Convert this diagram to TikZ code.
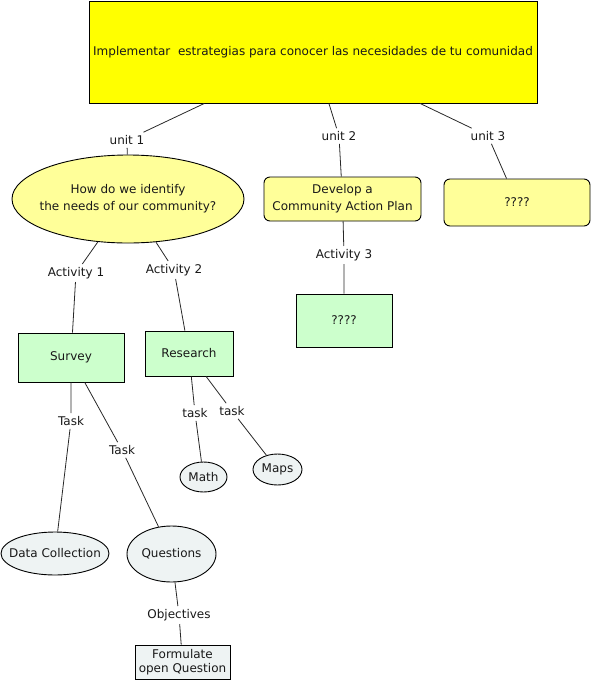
\documentclass[tikz,border=0pt]{standalone}
\usepackage{fontspec}
\setmainfont{DejaVu Sans}
\usetikzlibrary{shapes.geometric}
\definecolor{topyel}{RGB}{255,255,0}
\definecolor{lightyel}{RGB}{255,255,153}
\definecolor{lightgrn}{RGB}{204,255,204}
\definecolor{lightgry}{RGB}{238,243,243}
\definecolor{linecol}{RGB}{40,40,40}
\begin{document}
\begin{tikzpicture}[x=1pt,y=-1pt,
  every node/.style={font=\fontsize{12}{17}\selectfont, text=black!90},
  mainbox/.style={draw=black, line width=0.9pt, fill=topyel, inner sep=0pt},
  yelbox/.style={draw=black, line width=0.9pt, fill=lightyel, rounded corners=6pt, inner sep=0pt, align=center},
  yeloval/.style={ellipse, draw=black, line width=0.9pt, fill=lightyel, inner xsep=-10pt, inner ysep=0pt, align=center},
  grnbox/.style={draw=black, line width=0.9pt, fill=lightgrn, inner sep=0pt},
  gryoval/.style={ellipse, draw=black, line width=0.9pt, fill=lightgry, inner xsep=-8pt, inner ysep=0pt},
  grybox/.style={draw=black, line width=0.9pt, fill=lightgry, inner sep=0pt, align=center, font=\fontsize{12}{14.5}\selectfont},
  lbl/.style={inner sep=3pt},
  conn/.style={draw=linecol, line width=0.8pt}]
\useasboundingbox (0,0) rectangle (592,681);
% concepts
\node[mainbox, minimum width=448pt, minimum height=102pt] (top) at (313,52) {Implementar\ \ estrategias para conocer las necesidades de tu comunidad};
\node[yeloval, minimum width=232pt, minimum height=88pt] (ell) at (128,199) {How do we identify\\the needs of our community?};
\node[yelbox, minimum width=157pt, minimum height=44pt] (dev) at (342.5,199) {Develop a\\Community Action Plan};
\node[yelbox, minimum width=146pt, minimum height=47pt] (uq) at (517,202.5) {????};
\node[grnbox, minimum width=96pt, minimum height=53pt] (gq) at (344,320.5) {????};
\node[grnbox, minimum width=106pt, minimum height=49pt] (survey) at (71,357.5) {Survey};
\node[grnbox, minimum width=88pt, minimum height=45pt] (research) at (189,353.5) {Research};
\node[gryoval, minimum width=108pt, minimum height=43pt] (datacol) at (55,553.5) {Data Collection};
\node[gryoval, minimum width=89pt, minimum height=56pt] (questions) at (171.5,554) {Questions};
\node[gryoval, minimum width=47pt, minimum height=30pt] (math) at (203.5,477) {Math};
\node[gryoval, minimum width=49pt, minimum height=31pt] (maps) at (277.5,469.5) {Maps};
\node[grybox, minimum width=95pt, minimum height=34pt] (form) at (182.5,662) {Formulate\\open Question};
% linking labels
\node[lbl] (u1) at (127,140) {unit 1};
\node[lbl] (u2) at (339,136) {unit 2};
\node[lbl] (u3) at (488,136) {unit 3};
\node[lbl] (a1) at (76,273) {Activity 1};
\node[lbl] (a2) at (174,270) {Activity 2};
\node[lbl] (a3) at (344,255) {Activity 3};
\node[lbl] (t1) at (71,421) {Task};
\node[lbl] (t2) at (122,450) {Task};
\node[lbl] (t3) at (195,413) {task};
\node[lbl] (t4) at (232,411) {task};
\node[lbl] (ob) at (179,615) {Objectives};
% connectors
\path[conn] (top) -- (u1) (u1) -- (ell);
\path[conn] (top) -- (u2) (u2) -- (dev);
\path[conn] (top) -- (u3) (u3) -- (uq);
\path[conn] (ell) -- (a1) (a1) -- (survey);
\path[conn] (ell) -- (a2) (a2) -- (research);
\path[conn] (dev) -- (a3) (a3) -- (gq);
\path[conn] (survey) -- (t1) (t1) -- (datacol);
\path[conn] (survey) -- (t2) (t2) -- (questions);
\path[conn] (research) -- (t3) (t3) -- (math);
\path[conn] (research) -- (t4) (t4) -- (maps);
\path[conn] (questions) -- (ob) (ob) -- (form);
\end{tikzpicture}
\end{document}
